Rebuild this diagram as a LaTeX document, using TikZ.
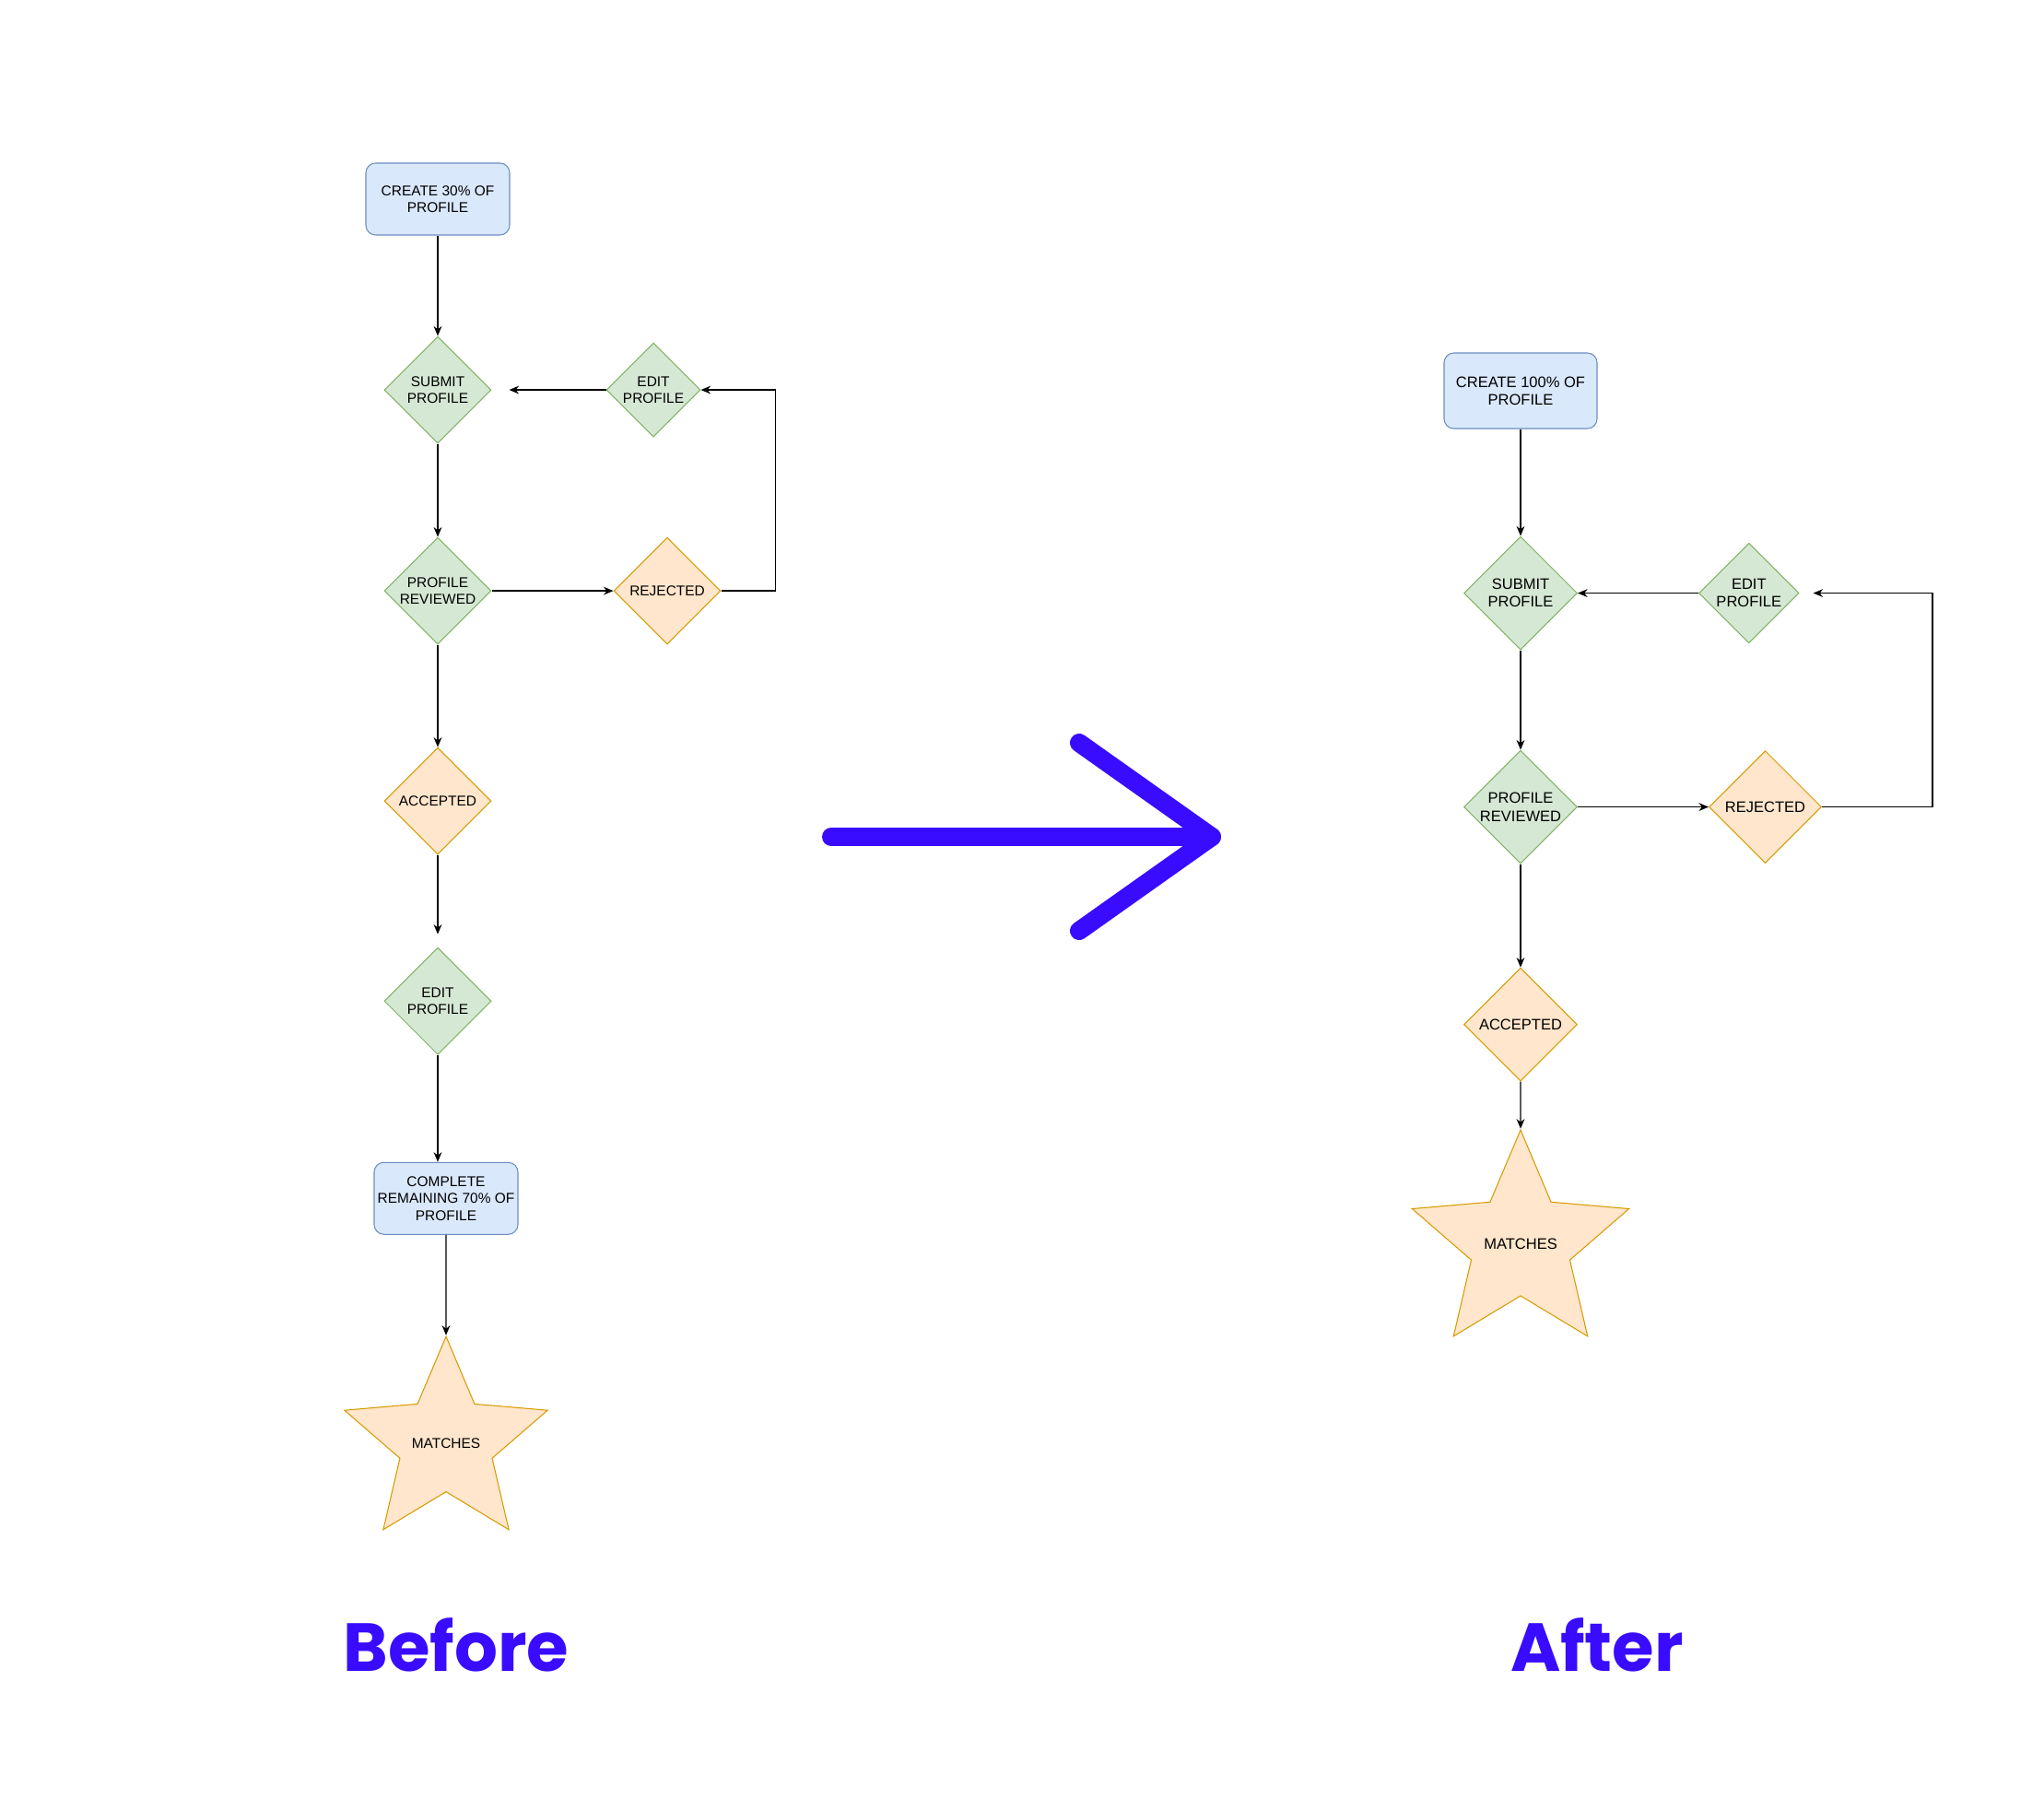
\documentclass[tikz,border=0pt]{standalone}
\usepackage{fontspec}
\setmainfont{Liberation Sans}
\newfontfamily\titlefont{Poppins}
\usetikzlibrary{calc,shapes.geometric,arrows.meta,positioning}
\usepackage{xcolor}
\definecolor{boxblue}{HTML}{DAE8FC}
\definecolor{boxblueline}{HTML}{6C8EBF}
\definecolor{stepgreen}{HTML}{D5E8D4}
\definecolor{stepgreenline}{HTML}{82B366}
\definecolor{steporange}{HTML}{FFE6CC}
\definecolor{steporangeline}{HTML}{D79B00}
\definecolor{brightblue}{HTML}{3A0CFF}

\begin{document}
\begin{tikzpicture}[
  box/.style={rectangle,rounded corners=6pt,minimum width=3.12cm,
    minimum height=1.56cm,inner xsep=0pt,align=center,
    font=\fontsize{8.8}{10.5}\selectfont,draw=boxblueline,fill=boxblue,line width=0.6pt},
  choice/.style={diamond,aspect=1,inner sep=0pt,minimum size=2.32cm,align=center,
    font=\fontsize{8.8}{10.5}\selectfont,line width=0.6pt},
  greenchoice/.style={choice,fill=stepgreen,draw=stepgreenline},
  orangechoice/.style={choice,fill=steporange,draw=steporangeline},
  goal/.style={star,star points=5,star point ratio=2.2,inner sep=0pt,
    minimum size=4.1cm,fill=steporange,draw=steporangeline,line width=0.6pt,
    font=\fontsize{8.8}{10.5}\selectfont},
  afterfont/.style={font=\fontsize{9.4}{11}\selectfont},
  arrow/.style={-{Stealth[length=6pt,width=5pt]},line width=0.8pt},
  bigarrow/.style={line width=0.4cm,line cap=round,line join=round,color=brightblue},
  title/.style={font=\titlefont\bfseries\fontsize{42}{46}\selectfont,text=brightblue}
]
  \useasboundingbox (0,0) rectangle (44.36,-39.04);

  % before
  \node[box] (createL) at (9.5,-4.32) {CREATE 30\% OF\\PROFILE};
  \node[greenchoice,below=2.18cm of createL] (submitL) {SUBMIT\\PROFILE};
  \node[greenchoice,minimum size=2.04cm,right=2.48cm of submitL] (editL) {EDIT\\PROFILE};
  \node[greenchoice,below=2.02cm of submitL] (reviewL) {PROFILE\\REVIEWED};
  \node[orangechoice,right=2.64cm of reviewL] (rejectL) {REJECTED};
  \node[orangechoice,below=2.22cm of reviewL] (acceptL) {ACCEPTED};
  \node[greenchoice,below=2.0cm of acceptL] (edit2L) {EDIT\\PROFILE};
  \node[box,below=2.32cm of edit2L,xshift=0.18cm] (completeL) {COMPLETE\\REMAINING 70\% OF\\PROFILE};
  \node[goal,below=2.18cm of completeL] (matchL) {MATCHES};

  \draw[arrow] (createL) -- (submitL);
  \draw[arrow,shorten >=0.38cm] (editL) -- (submitL);
  \draw[arrow] (submitL) -- (reviewL);
  \draw[arrow] (reviewL) -- (rejectL);
  \draw[arrow] (rejectL.east) -- ++(1.18,0) |- (editL.east);
  \draw[arrow] (reviewL) -- (acceptL);
  \draw[arrow,shorten >=0.28cm] (acceptL) -- (edit2L);
  \draw[arrow] (edit2L.south) -- (edit2L.south |- completeL.north);
  \draw[arrow] (completeL) -- (matchL);

  % after
  \node[box,afterfont,minimum width=3.32cm,minimum height=1.64cm] (createR) at (33.0,-8.48) {CREATE 100\% OF\\PROFILE};
  \node[greenchoice,afterfont,minimum size=2.46cm,below=2.32cm of createR] (submitR) {SUBMIT\\PROFILE};
  \node[greenchoice,afterfont,minimum size=2.17cm,right=2.62cm of submitR] (editR) {EDIT\\PROFILE};
  \node[greenchoice,afterfont,minimum size=2.46cm,below=2.16cm of submitR] (reviewR) {PROFILE\\REVIEWED};
  \node[orangechoice,afterfont,minimum size=2.44cm,right=2.84cm of reviewR] (rejectR) {REJECTED};
  \node[orangechoice,afterfont,minimum size=2.46cm,below=2.24cm of reviewR] (acceptR) {ACCEPTED};
  \node[goal,afterfont,minimum size=4.37cm,below=1.02cm of acceptR] (matchR) {MATCHES};

  \draw[arrow] (createR) -- (submitR);
  \draw[arrow] (editR) -- (submitR);
  \draw[arrow] (submitR) -- (reviewR);
  \draw[arrow] (reviewR) -- (rejectR);
  \draw[arrow,shorten >=0.3cm] (rejectR.east) -- ++(2.4,0) |- (editR.east);
  \draw[arrow] (reviewR) -- (acceptR);
  \draw[arrow] (acceptR) -- (matchR);

  % big arrow and titles
  \coordinate (tailA) at (18.04,-18.16);
  \coordinate (headA) at (26.3,-18.16);
  \draw[bigarrow] (tailA) -- (headA);
  \draw[bigarrow] (23.42,-16.12) -- (headA) -- (23.42,-20.2);
  \node[title] (before) at (9.9,-35.7) {Before};
  \node[title] (after) at (34.66,-35.7) {After};
\end{tikzpicture}
\end{document}
